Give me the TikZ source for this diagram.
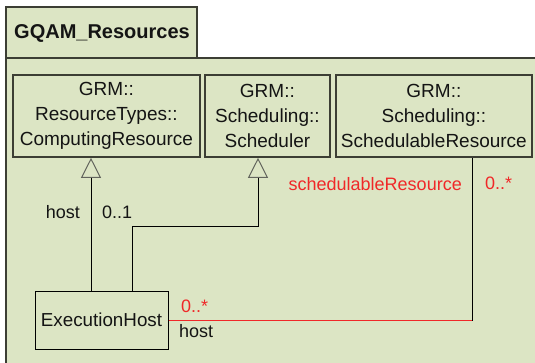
\documentclass[tikz,border=0pt]{standalone}
\usepackage{fontspec}
\setmainfont{Liberation Sans}
\usetikzlibrary{arrows.meta}
\definecolor{pkgfill}{RGB}{220,229,196}
\definecolor{pkgline}{RGB}{60,62,52}
\definecolor{txt}{RGB}{20,20,20}
\definecolor{umlred}{RGB}{240,40,40}
\tikzset{
  x=1pt, y=-1pt,
  classbox/.style={draw=pkgline, line width=1.8pt, fill=pkgfill, text=txt,
    align=center, font=\fontsize{19}{25}\selectfont, inner sep=0pt, anchor=north west},
  ehbox/.style={draw=black, line width=1pt, fill=pkgfill, text=txt,
    font=\fontsize{18.8}{22}\selectfont, inner sep=0pt},
  lbl/.style={font=\fontsize{18}{22}\selectfont, text=txt, inner sep=0pt},
  redlbl/.style={lbl, text=umlred},
  gen/.style={draw=black, line width=1pt,
    -{Triangle[open, length=20pt, width=20pt, fill=pkgfill, line width=1pt, color=pkgline!80]}},
}
\begin{document}
\begin{tikzpicture}
\useasboundingbox (0,0) rectangle (535,363);
\fill[white] (0,0) rectangle (535,363);
% package body
\fill[pkgfill] (6,58) rectangle (535,363);
\draw[pkgline, line width=1.8pt] (6,363) -- (6,58) -- (535,58);
% tab
\draw[pkgline, line width=1.8pt, fill=pkgfill] (6,7) rectangle (197,58);
\node[anchor=west, font=\fontsize{20}{24}\selectfont\bfseries, text=txt, inner sep=0pt] (title) at (14,33) {GQAM\_Resources};
% classes
\node[classbox, minimum width=187pt, minimum height=82pt] (cr) at (12,74)
  {GRM::\\ResourceTypes::\\ComputingResource};
\node[classbox, minimum width=125pt, minimum height=82pt] (sch) at (204,74)
  {GRM::\\Scheduling::\\Scheduler};
\node[classbox, minimum width=196pt, minimum height=82pt] (sr) at (335,74)
  {GRM::\\Scheduling::\\SchedulableResource};
\node[ehbox, minimum width=133pt, minimum height=58pt] (eh) at (101.5,320) {ExecutionHost};
% coordinates
\coordinate (g1) at (91,0);
\coordinate (g2) at (132,0);
\coordinate (bend) at (258,227);
\coordinate (j) at (472,321);
% generalizations
\draw[gen] (eh.north -| g1) -- (cr.south -| g1);
\draw[gen] (eh.north -| g2) |- (bend) -- (sch.south -| bend);
% association
\draw[umlred, line width=1pt] (eh.east) -- (eh.east -| j);
\draw[black, line width=1pt] (sr.south -| j) -- (j);
% labels
\node[lbl, anchor=east] (lh) at (80,212) {host};
\node[lbl, anchor=west] (l01) at (102,212) {0..1};
\node[redlbl, anchor=east] (lsr) at (462,184) {schedulableResource};
\node[redlbl, anchor=west] (lm1) at (485,183) {0..*};
\node[redlbl, anchor=west] (lm2) at (181,306) {0..*};
\node[lbl, anchor=west] (lh2) at (179,331) {host};
\end{tikzpicture}
\end{document}
